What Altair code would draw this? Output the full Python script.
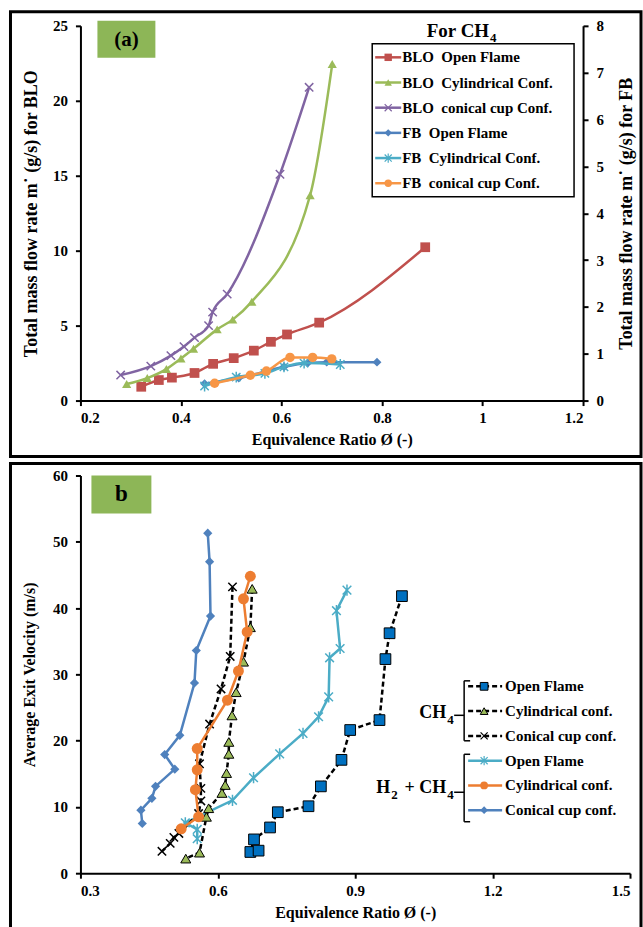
import altair as alt
import pandas as pd

FONT = "Liberation Serif"

# ---------------- Panel (a) data : For CH4 ----------------
blo_open_x = [0.321, 0.356, 0.382, 0.427, 0.464, 0.505, 0.545, 0.579, 0.611, 0.675, 0.886]
blo_open_y = [0.92, 1.37, 1.53, 1.84, 2.45, 2.83, 3.33, 3.92, 4.41, 5.20, 10.23]
blo_cyl_x = [0.292, 0.333, 0.371, 0.400, 0.425, 0.472, 0.503, 0.541, 0.657, 0.701]
blo_cyl_y = [1.10, 1.50, 2.10, 2.80, 3.45, 4.75, 5.40, 6.60, 13.70, 22.45]
blo_con_x = [0.280, 0.340, 0.380, 0.406, 0.427, 0.455, 0.463, 0.492, 0.597, 0.655]
blo_con_y = [1.70, 2.30, 3.00, 3.60, 4.20, 5.00, 5.90, 7.10, 15.10, 20.90]
fb_open_x = [0.447, 0.515, 0.605, 0.652, 0.690, 0.790]
fb_open_y = [0.36, 0.48, 0.72, 0.80, 0.82, 0.82]
fb_cyl_x = [0.447, 0.510, 0.567, 0.605, 0.645, 0.717]
fb_cyl_y = [0.31, 0.50, 0.58, 0.72, 0.80, 0.77]
fb_con_x = [0.467, 0.538, 0.570, 0.617, 0.662, 0.700]
fb_con_y = [0.37, 0.54, 0.63, 0.92, 0.92, 0.89]

legend_a = ["BLO\u00a0 Open Flame", "BLO\u00a0 Cylindrical Conf.", "BLO\u00a0 conical cup Conf.",
            "FB\u00a0 Open Flame", "FB\u00a0 Cylindrical Conf.", "FB\u00a0 conical cup Conf."]

# ---------------- Panel (b) data ----------------
ch4_open_x = [1.002, 0.975, 0.966, 0.953, 0.889, 0.870, 0.825, 0.798, 0.731, 0.714, 0.679, 0.671, 0.689]
ch4_open_y = [41.8, 36.2, 32.3, 23.1, 21.6, 17.1, 13.1, 10.1, 9.2, 6.9, 5.1, 3.2, 3.4]
ch4_cyl_x = [0.675, 0.671, 0.656, 0.640, 0.631, 0.624, 0.624, 0.619, 0.616, 0.609, 0.580, 0.575, 0.560, 0.530]
ch4_cyl_y = [42.9, 37.1, 31.9, 27.3, 23.8, 19.8, 18.0, 15.1, 13.3, 12.1, 9.8, 8.5, 3.1, 2.2]
ch4_con_x = [0.632, 0.627, 0.607, 0.582, 0.560, 0.563, 0.563, 0.558, 0.515, 0.504, 0.496, 0.478]
ch4_con_y = [43.2, 32.7, 27.8, 22.5, 16.5, 12.8, 10.9, 9.0, 6.0, 5.4, 4.5, 3.3]
h2_open_x = [0.882, 0.859, 0.867, 0.844, 0.842, 0.820, 0.786, 0.735, 0.678, 0.632, 0.529, 0.555, 0.555]
h2_open_y = [42.7, 39.6, 33.9, 32.5, 26.6, 23.6, 21.1, 18.0, 14.4, 11.0, 7.6, 6.6, 5.2]
h2_cyl_x = [0.671, 0.656, 0.664, 0.645, 0.621, 0.555, 0.555, 0.551, 0.558, 0.520]
h2_cyl_y = [44.8, 41.4, 36.4, 30.5, 26.1, 18.8, 15.6, 12.6, 8.5, 6.7]
h2_con_x = [0.578, 0.582, 0.584, 0.553, 0.549, 0.517, 0.484, 0.506, 0.464, 0.456, 0.432, 0.435]
h2_con_y = [51.3, 47.0, 38.8, 33.6, 28.7, 20.8, 17.9, 15.7, 13.1, 11.3, 9.5, 7.5]

legend_b = ["Open Flame", "Cylindrical conf.", "Conical cup conf.",
            "Open Flame", "Cylindrical conf.", "Conical cup conf."]

XPATH = "M-1,-1L1,1M-1,1L1,-1"
STAR = "M-1,-1L1,1M-1,1L1,-1M0,-1.3L0,1.3"

one = pd.DataFrame({"k": [0]})


def mkdf(xs, ys, yname="y"):
    return pd.DataFrame({"x": xs, yname: ys, "i": list(range(len(xs)))})


def series(df, X, Y, color, shape, size, filled=True, fill=None, stroke=None, sw=1.5,
           line_color=None, dash=None, interp="linear", ordered=False, lw=2.5):
    lkw = dict(color=line_color or color, strokeWidth=lw, interpolate=interp)
    if dash:
        lkw["strokeDash"] = dash
    enc = dict(x=X, y=Y)
    if ordered:
        enc["order"] = alt.Order("i:Q")
    line = alt.Chart(df).mark_line(**lkw).encode(**enc)
    pkw = dict(shape=shape, size=size, filled=filled, opacity=1, strokeWidth=sw)
    if filled:
        pkw["fill"] = fill or color
        if stroke:
            pkw["stroke"] = stroke
    else:
        pkw["color"] = stroke or color
    pts = alt.Chart(df).mark_point(**pkw).encode(x=X, y=Y)
    return [line, pts]


def dtext(txt, x, y, size, align="left", baseline="middle"):
    return alt.Chart(one).mark_text(text=txt, font=FONT, fontSize=size, fontWeight="bold",
                                    align=align, baseline=baseline, color="black").encode(
        x=alt.value(x), y=alt.value(y))


def drule(x, y, x2, y2, color="black", width=1.5, dash=None):
    kw = dict(color=color, strokeWidth=width)
    if dash:
        kw["strokeDash"] = dash
    return alt.Chart(one).mark_rule(**kw).encode(
        x=alt.value(x), y=alt.value(y), x2=alt.value(x2), y2=alt.value(y2))


def drect(x, y, x2, y2, fill="white", fill_op=1.0, stroke="black", sw=1.0):
    return alt.Chart(one).mark_rect(fill=fill, fillOpacity=fill_op, stroke=stroke, strokeWidth=sw).encode(
        x=alt.value(x), y=alt.value(y), x2=alt.value(x2), y2=alt.value(y2))


def dpoint(x, y, shape, size, filled=True, fill=None, stroke=None, sw=1.2, color="black"):
    kw = dict(shape=shape, size=size, filled=filled, opacity=1, strokeWidth=sw)
    if filled:
        kw["fill"] = fill or color
        if stroke:
            kw["stroke"] = stroke
    else:
        kw["color"] = stroke or color
    return alt.Chart(one).mark_point(**kw).encode(x=alt.value(x), y=alt.value(y))


# ---------------- Panel (a) ----------------
WA, HA = 503, 375
XA = alt.X("x:Q", scale=alt.Scale(domain=[0.2, 1.2], nice=False, zero=False),
           axis=alt.Axis(values=[0.2, 0.4, 0.6, 0.8, 1.0, 1.2], format="~g",
                         title="Equivalence Ratio \u00d8 (-)", orient="bottom", titlePadding=6))
YL = alt.Y("y:Q", scale=alt.Scale(domain=[0, 25], nice=False),
           axis=alt.Axis(values=[0, 5, 10, 15, 20, 25], orient="left", labelPadding=8,
                         titleFontSize=18,
                         title="Total mass flow rate m\u02d9 (g/s) for BLO", titlePadding=12))
YR = alt.Y("yr:Q", scale=alt.Scale(domain=[0, 8], nice=False),
           axis=alt.Axis(values=list(range(9)), orient="right", labelPadding=8,
                         titleFontSize=18, titleAngle=270, titleBaseline="top",
                         title="Total mass flow rate m\u02d9 (g/s) for FB", titlePadding=14))

RED, GREEN, PURPLE = "#C0504D", "#9BBB59", "#8064A2"
BLUE, TEAL, ORANGE = "#4F81BD", "#4BACC6", "#F79646"

blo_layers = []
blo_layers += series(mkdf(blo_open_x, blo_open_y), XA, YL, RED, "square", 95, interp="monotone")
blo_layers += series(mkdf(blo_cyl_x, blo_cyl_y), XA, YL, GREEN, "triangle-up", 85, interp="monotone")
blo_layers += series(mkdf(blo_con_x, blo_con_y), XA, YL, PURPLE, XPATH, 70, filled=False, interp="monotone")
fb_layers = []
fb_layers += series(mkdf(fb_open_x, fb_open_y, "yr"), XA, YR, BLUE, "diamond", 80, interp="monotone")
fb_layers += series(mkdf(fb_cyl_x, fb_cyl_y, "yr"), XA, YR, TEAL, STAR, 70, filled=False, interp="monotone")
fb_layers += series(mkdf(fb_con_x, fb_con_y, "yr"), XA, YR, ORANGE, "circle", 90, interp="monotone")

deco_a = [
    drect(-70, -14, 561, 431, fill="white", fill_op=0, stroke="black", sw=3),
    drect(17, -5, 75, 32, fill="#8DB657", fill_op=1, stroke="#8DB657", sw=0),
    dtext("(a)", 46, 14, 21, align="center"),
]
leg_a = [drect(292, 18, 494, 171, fill="white", fill_op=1, stroke="black", sw=1.5),
         dtext("For CH", 409, 5, 19, align="right"),
         dtext("4", 410, 12, 13)]
leg_specs_a = [(RED, "square", True), (GREEN, "triangle-up", True), (PURPLE, XPATH, False),
               (BLUE, "diamond", True), (TEAL, STAR, False), (ORANGE, "circle", True)]
for k, (c, shp, fl) in enumerate(leg_specs_a):
    yy = 31.5 + 25.2 * k
    leg_a.append(drule(295, yy, 321, yy, color=c, width=2.5))
    if fl:
        leg_a.append(dpoint(308, yy, shp, 55, filled=True, fill=c))
    else:
        leg_a.append(dpoint(308, yy, shp, 50, filled=False, stroke=c))
    leg_a.append(dtext(legend_a[k], 322, yy, 15))

panel_a = alt.layer(
    *deco_a,
    alt.layer(*blo_layers),
    alt.layer(*fb_layers),
    *leg_a,
).resolve_scale(y="independent").properties(width=WA, height=HA)

# ---------------- Panel (b) ----------------
WB, HB = 550, 398
XB = alt.X("x:Q", scale=alt.Scale(domain=[0.3, 1.5], nice=False, zero=False),
           axis=alt.Axis(values=[0.3, 0.6, 0.9, 1.2, 1.5], format=".1f",
                         title="Equivalence Ratio \u00d8 (-)", orient="bottom", titlePadding=6))
YB = alt.Y("y:Q", scale=alt.Scale(domain=[0, 60], nice=False),
           axis=alt.Axis(values=[0, 10, 20, 30, 40, 50, 60], orient="left", labelPadding=8,
                         title="Average Exit Velocity (m/s)", titlePadding=15))

SQ_BLUE = "#0070C0"
BLUE_B, TEAL_B, ORANGE_B = "#4F81BD", "#4BACC6", "#ED7D31"
DASH = [5, 3]

b_layers = []
b_layers += series(mkdf(h2_con_x, h2_con_y), XB, YB, BLUE_B, "diamond", 85, ordered=True)
b_layers += series(mkdf(h2_open_x, h2_open_y), XB, YB, TEAL_B, STAR, 75, filled=False, ordered=True)
b_layers += series(mkdf(ch4_open_x, ch4_open_y), XB, YB, SQ_BLUE, "square", 115, stroke="black", sw=1,
                   line_color="black", dash=DASH, ordered=True)
b_layers += series(mkdf(ch4_cyl_x, ch4_cyl_y), XB, YB, GREEN, "triangle-up", 100, stroke="black", sw=1,
                   line_color="black", dash=DASH, ordered=True)
b_layers += series(mkdf(ch4_con_x, ch4_con_y), XB, YB, "black", XPATH, 70, filled=False,
                   line_color="black", dash=DASH, ordered=True)
b_layers += series(mkdf(h2_cyl_x, h2_cyl_y), XB, YB, ORANGE_B, "circle", 120, ordered=True)

deco_b = [
    drect(-70, -12, 561, 480, fill="white", fill_op=0, stroke="black", sw=3),
    drect(11, 0, 71, 38, fill="#8DB657", fill_op=1, stroke="#8DB657", sw=0),
    dtext("b", 41, 19, 23, align="center"),
]
leg_b = []
leg_specs_b = [("black", DASH, "square", True, SQ_BLUE, "black"),
               ("black", DASH, "triangle-up", True, GREEN, "black"),
               ("black", DASH, XPATH, False, None, "black"),
               (TEAL_B, None, STAR, False, None, TEAL_B),
               (ORANGE_B, None, "circle", True, ORANGE_B, None),
               (BLUE_B, None, "diamond", True, BLUE_B, None)]
for k, (lc, dsh, shp, fl, fc, sc) in enumerate(leg_specs_b):
    yy = 211 + 24.8 * k
    leg_b.append(drule(388, yy, 422, yy, color=lc, width=2.5, dash=dsh))
    if fl:
        leg_b.append(dpoint(404, yy, shp, 60, filled=True, fill=fc, stroke=sc, sw=1))
    else:
        leg_b.append(dpoint(404, yy, shp, 50, filled=False, stroke=sc))
    leg_b.append(dtext(legend_b[k], 425, yy, 15))

# braces
for top, bot, mid in [(205.5, 265.5, 240), (279, 346.5, 317)]:
    leg_b.append(drule(384, top, 384, bot, width=1.5))
    leg_b.append(drule(384, top, 390, top, width=1.5))
    leg_b.append(drule(384, bot, 390, bot, width=1.5))
    leg_b.append(drule(374, mid, 384, mid, width=1.5))

leg_b += [
    dtext("CH", 366, 238, 18, align="right"),
    dtext("4", 367, 245, 13),
    dtext("H", 310, 313, 18, align="right"),
    dtext("2", 311, 320, 13),
    dtext("+ CH", 366, 313, 18, align="right"),
    dtext("4", 367, 320, 13),
]

panel_b = alt.layer(*deco_b, *b_layers, *leg_b).properties(width=WB, height=HB)

chart = alt.vconcat(panel_a, panel_b, spacing=75, bounds="flush").properties(
    padding={"left": 8.5, "top": 9.5, "right": 0, "bottom": 0},
    background="white",
).configure_axis(
    labelFont=FONT, labelFontSize=15, labelFontWeight="bold", labelColor="black",
    titleFont=FONT, titleFontSize=16, titleFontWeight="bold", titleColor="black",
    domainColor="black", domainWidth=2, tickColor="black", tickWidth=2, tickSize=5,
    labelPadding=5, grid=False,
).configure_view(strokeWidth=0)

chart.save("out.html", embed_options={"renderer": "svg", "actions": False})
